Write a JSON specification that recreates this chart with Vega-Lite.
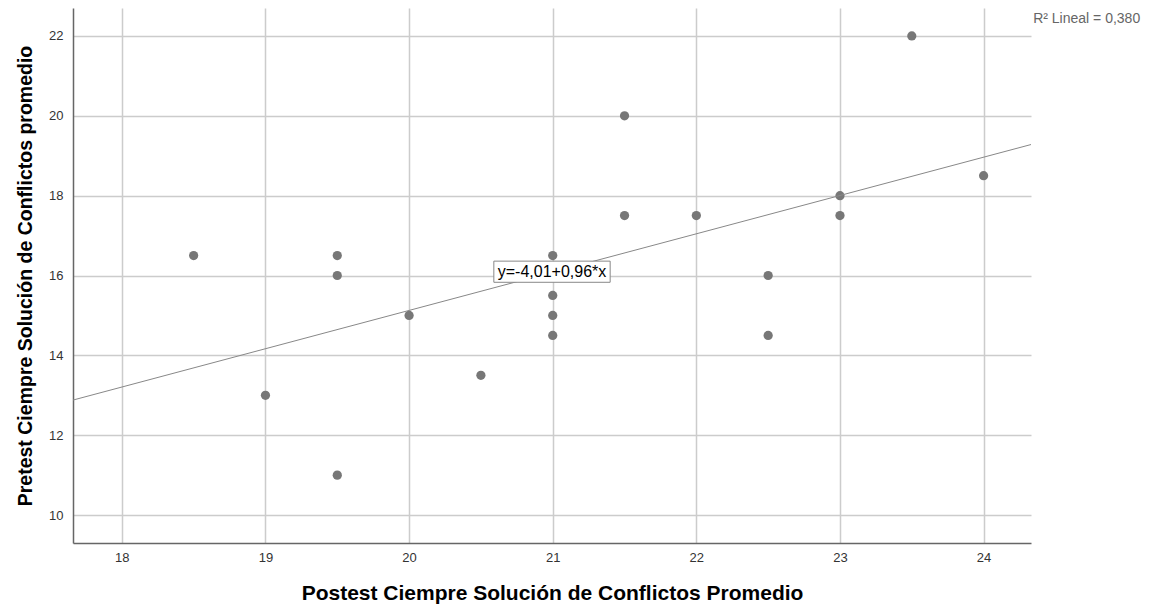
{
  "$schema": "https://vega.github.io/schema/vega-lite/v6.json",
  "autosize": "none",
  "width": 958,
  "height": 535,
  "padding": {"left": 73, "top": 8, "right": 122, "bottom": 61},
  "background": "white",
  "config": {
    "view": {"stroke": null},
    "font": "Liberation Sans"
  },
  "datasets": {
    "pts": [
      {"post": 18.5, "pre": 16.5},
      {"post": 19, "pre": 13},
      {"post": 19.5, "pre": 16.5},
      {"post": 19.5, "pre": 16},
      {"post": 19.5, "pre": 11},
      {"post": 20, "pre": 15},
      {"post": 20.5, "pre": 13.5},
      {"post": 21, "pre": 16.5},
      {"post": 21, "pre": 15.5},
      {"post": 21, "pre": 15},
      {"post": 21, "pre": 14.5},
      {"post": 21.5, "pre": 20},
      {"post": 21.5, "pre": 17.5},
      {"post": 22, "pre": 17.5},
      {"post": 22.5, "pre": 16},
      {"post": 22.5, "pre": 14.5},
      {"post": 23, "pre": 18},
      {"post": 23, "pre": 17.5},
      {"post": 23.5, "pre": 22},
      {"post": 24, "pre": 18.5}
    ],
    "fit": [
      {"post": 17.66, "pre": 12.88},
      {"post": 24.33, "pre": 19.28}
    ],
    "box": [
      {"x1": 20.59, "x2": 21.40, "y1": 15.83, "y2": 16.36, "xc": 20.995, "yc": 16.1, "label": "y=-4,01+0,96*x"}
    ],
    "leg": [
      {"x": 24.345, "y": 22.43, "label": "R² Lineal = 0,380"}
    ]
  },
  "layer": [
    {
      "data": {"name": "pts"},
      "mark": {"type": "circle", "size": 85, "color": "#777777", "opacity": 1},
      "encoding": {
        "x": {
          "field": "post", "type": "quantitative",
          "scale": {"domain": [17.66, 24.33], "nice": false, "zero": false},
          "axis": {
            "title": "Postest Ciempre Solución de Conflictos Promedio",
            "values": [18, 19, 20, 21, 22, 23, 24],
            "format": "d",
            "grid": true, "gridColor": "#cccccc", "gridWidth": 1.5,
            "domainColor": "#666666", "domainWidth": 1.5,
            "ticks": false, "labelPadding": 8,
            "labelFont": "Liberation Sans", "labelFontSize": 13, "labelColor": "#333333",
            "titleFont": "Liberation Sans", "titleFontSize": 21, "titleFontWeight": "bold", "titleColor": "#000000",
            "titlePadding": 18
          }
        },
        "y": {
          "field": "pre", "type": "quantitative",
          "scale": {"domain": [9.3, 22.7], "nice": false, "zero": false},
          "axis": {
            "title": "Pretest Ciempre Solución de Conflictos promedio",
            "values": [10, 12, 14, 16, 18, 20, 22],
            "format": "d",
            "grid": true, "gridColor": "#cccccc", "gridWidth": 1.5,
            "domainColor": "#666666", "domainWidth": 1.5,
            "ticks": false, "labelPadding": 10,
            "labelFont": "Liberation Sans", "labelFontSize": 13, "labelColor": "#333333",
            "titleFont": "Liberation Sans", "titleFontSize": 19.5, "titleFontWeight": "bold", "titleColor": "#000000",
            "titlePadding": 13
          }
        }
      }
    },
    {
      "data": {"name": "fit"},
      "mark": {"type": "line", "color": "#888888", "strokeWidth": 1, "clip": true},
      "encoding": {
        "x": {"field": "post", "type": "quantitative"},
        "y": {"field": "pre", "type": "quantitative"}
      }
    },
    {
      "data": {"name": "box"},
      "mark": {"type": "rect", "fill": "white", "stroke": "#888888", "strokeWidth": 1},
      "encoding": {
        "x": {"field": "x1", "type": "quantitative"},
        "x2": {"field": "x2"},
        "y": {"field": "y1", "type": "quantitative"},
        "y2": {"field": "y2"}
      }
    },
    {
      "data": {"name": "box"},
      "mark": {"type": "text", "font": "Liberation Sans", "fontSize": 16, "color": "#000000", "align": "center", "baseline": "middle"},
      "encoding": {
        "x": {"field": "xc", "type": "quantitative"},
        "y": {"field": "yc", "type": "quantitative"},
        "text": {"field": "label"}
      }
    },
    {
      "data": {"name": "leg"},
      "mark": {"type": "text", "font": "Liberation Sans", "fontSize": 14, "color": "#666666", "align": "left", "baseline": "middle"},
      "encoding": {
        "x": {"field": "x", "type": "quantitative"},
        "y": {"field": "y", "type": "quantitative"},
        "text": {"field": "label"}
      }
    }
  ]
}
